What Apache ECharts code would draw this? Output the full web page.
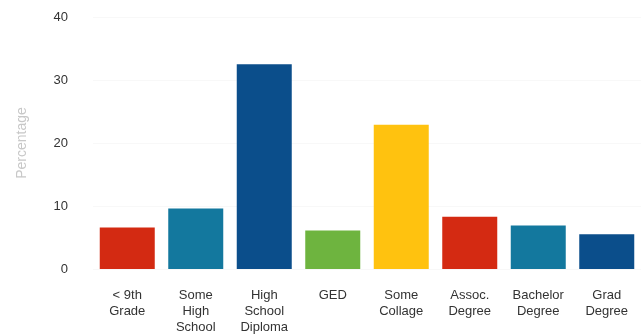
<!DOCTYPE html>
<html>
<head>
<meta charset="utf-8">
<style>
  html, body { margin: 0; padding: 0; background: #fff; }
  #chart { width: 641px; height: 335px; }
</style>
<script src="https://cdn.jsdelivr.net/npm/echarts@6/dist/echarts.min.js"></script>
</head>
<body>
<div id="chart"></div>
<script>
// Educational attainment, share of respondents (%)
const categories = ['< 9th\nGrade', 'Some\nHigh\nSchool', 'High\nSchool\nDiploma', 'GED',
                    'Some\nCollage', 'Assoc.\nDegree', 'Bachelor\nDegree', 'Grad\nDegree'];
const percentages = [6.6, 9.6, 32.5, 6.1, 22.9, 8.3, 6.9, 5.5];
const barColors = ['#d32a12', '#13789e', '#0b4e8b', '#6eb43f', '#ffc20f', '#d42a12', '#13789e', '#0b4e8b'];
const yTicks = [0, 10, 20, 30, 40];

const font = 'Liberation Sans, Arial, sans-serif';
const chart = echarts.init(document.getElementById('chart'));
chart.setOption({
  animation: false,
  grid: { left: 93, top: 17, width: 549, height: 255 },
  xAxis: {
    type: 'category',
    data: categories,
    axisLine: { show: false },
    axisTick: { show: false },
    axisLabel: {
      color: '#333',
      fontFamily: font,
      fontSize: 13,
      lineHeight: 16,
      margin: 18,
      interval: 0
    }
  },
  yAxis: {
    type: 'value',
    min: yTicks[0],
    max: yTicks[yTicks.length - 1],
    interval: 10,
    name: 'Percentage',
    nameLocation: 'middle',
    nameGap: 64,
    nameTextStyle: { color: '#c8c8c8', fontSize: 14, fontFamily: font },
    axisLine: { show: false },
    axisTick: { show: false },
    splitLine: { lineStyle: { color: '#f8f8f8' } },
    axisLabel: {
      color: '#333',
      fontFamily: font,
      fontSize: 13,
      margin: 25
    }
  },
  series: [{
    type: 'bar',
    barWidth: 55,
    data: percentages.map((v, i) => ({ value: v, itemStyle: { color: barColors[i] } }))
  }]
});
</script>
</body>
</html>
